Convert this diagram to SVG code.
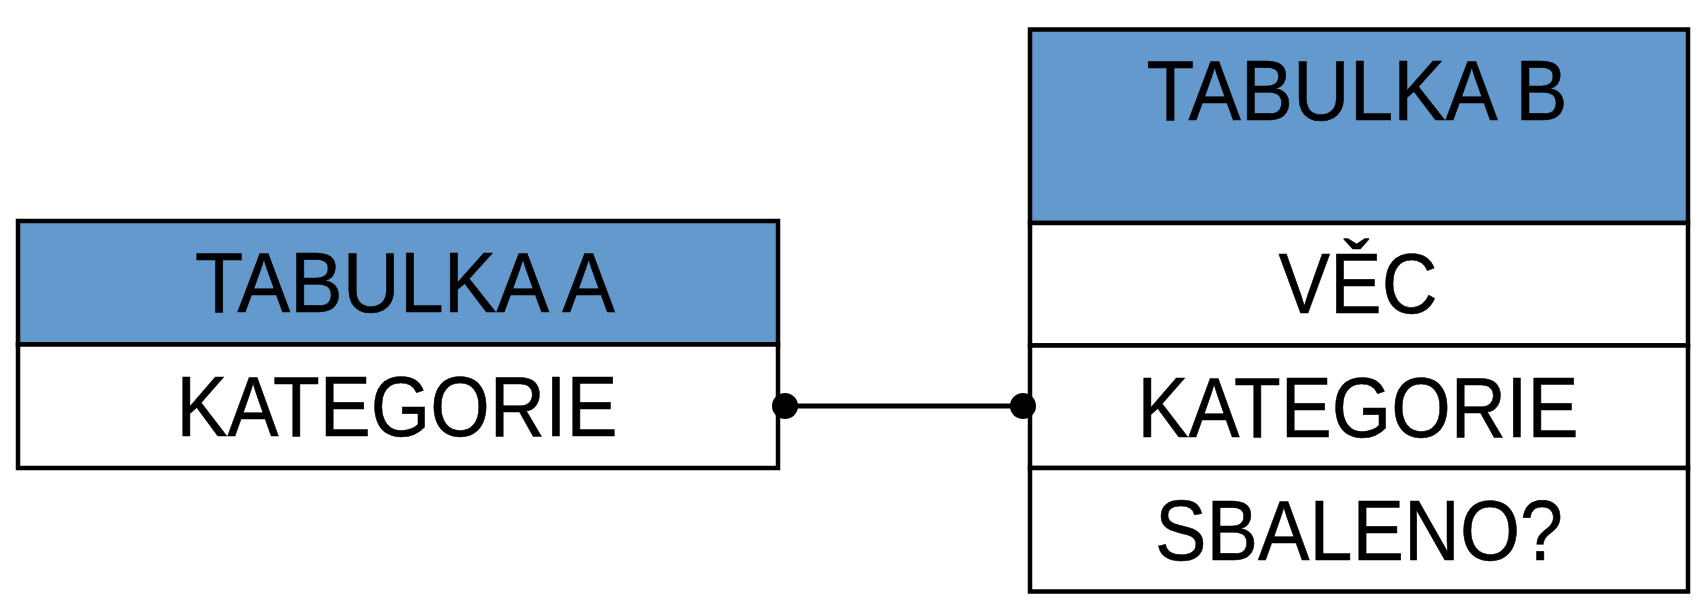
<svg xmlns="http://www.w3.org/2000/svg" width="1699" height="608" viewBox="0 0 1699 608">
<style>
.hdr{fill:#6399CC;stroke:#000;stroke-width:4.5}
.row{fill:#fff;stroke:#000;stroke-width:4.5}
.t{font-family:"Liberation Sans",Arial,sans-serif;font-size:85px;fill:#000;stroke:#000;stroke-width:0.6;text-anchor:middle}
.conn{stroke:#000;stroke-width:5;fill:none}
.dot{fill:#000}
</style>
<rect width="1699" height="608" fill="#fff"/>
<g id="tabulka-a">
<rect class="hdr" x="18" y="221" width="760" height="123.5"/>
<rect class="row" x="18" y="344.5" width="760" height="123.5"/>
<text class="t" x="405" y="312" textLength="420" lengthAdjust="spacingAndGlyphs">TABULKA A</text>
<text class="t" x="397" y="436" textLength="441" lengthAdjust="spacingAndGlyphs">KATEGORIE</text>
</g>
<g id="tabulka-b">
<rect class="hdr" x="1030" y="29.5" width="658" height="193.5"/>
<rect class="row" x="1030" y="223" width="658" height="122.5"/>
<rect class="row" x="1030" y="345.5" width="658" height="122.5"/>
<rect class="row" x="1030" y="468" width="658" height="123.5"/>
<text class="t" x="1357" y="119.5" textLength="421" lengthAdjust="spacingAndGlyphs">TABULKA B</text>
<text class="t" x="1358" y="312.5" textLength="159" lengthAdjust="spacingAndGlyphs">VĚC</text>
<text class="t" x="1358" y="436.5" textLength="441" lengthAdjust="spacingAndGlyphs">KATEGORIE</text>
<text class="t" x="1359" y="560" textLength="408" lengthAdjust="spacingAndGlyphs">SBALENO?</text>
</g>
<g id="connectors">
<line class="conn" x1="785" y1="406" x2="1023" y2="406"/>
<circle class="dot" cx="785" cy="406" r="13"/>
<circle class="dot" cx="1023" cy="406" r="13"/>
</g>
</svg>
